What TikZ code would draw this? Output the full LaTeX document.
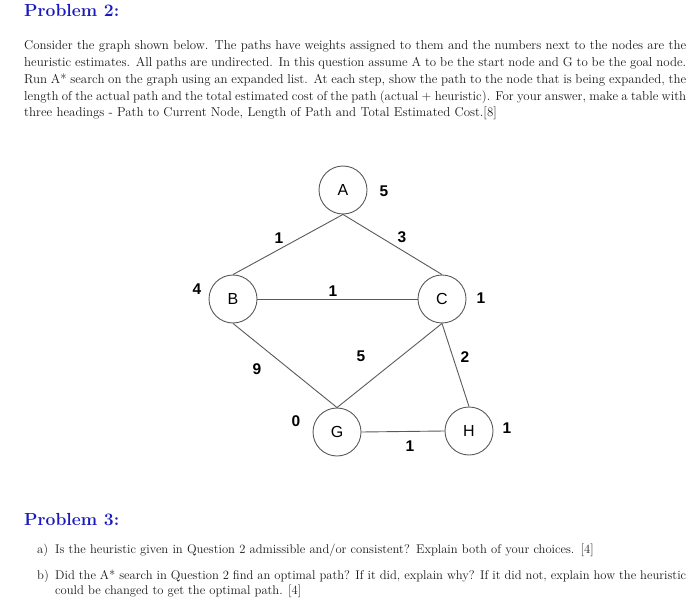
\documentclass[tikz,border=0pt]{standalone}
\usepackage{fontspec}
\newfontfamily\arialf{Liberation Sans}
\definecolor{headblue}{RGB}{25,25,190}
\definecolor{txt}{RGB}{25,25,25}
\definecolor{edgec}{RGB}{90,90,90}
\newcommand{\jline}[1]{\hbox to 662pt{\spaceskip=0.25em plus 0.4em minus 0.1em\xspaceskip=0.4em plus 0.4em minus 0.15em #1}}
\begin{document}
\begin{tikzpicture}[x=1pt,y=-1pt,
  vert/.style={circle,draw=edgec,line width=0.9pt,minimum size=48pt,inner sep=0pt,font=\arialf\fontsize{16}{16}\selectfont,text=black},
  wlab/.style={font=\arialf\bfseries\fontsize{15.5}{15.5}\selectfont,inner sep=0pt,text=black},
  link/.style={draw=edgec,line width=0.9pt},
  heading/.style={anchor=base west,inner sep=0pt,text=headblue,font=\bfseries\fontsize{17.5}{20}\selectfont},
  body/.style={anchor=base west,inner sep=0pt,text=txt,align=left,font=\fontsize{12.9}{16.7}\selectfont},
  itembody/.style={anchor=base west,inner sep=0pt,text=txt,align=justify,font=\fontsize{12.6}{15.5}\selectfont}
]
\useasboundingbox (0,0) rectangle (700,609);
\fill[white] (0,0) rectangle (700,609);

% headings and text
\node[heading] (p2) at (24,17) {Problem 2:};
\node[body,text width=662pt] (para) at (24,50) {\jline{Consider the graph shown below. The paths have weights assigned to them and the numbers next to the nodes are the}
\jline{heuristic estimates. All paths are undirected. In this question assume A to be the start node and G to be the goal node.}
\jline{Run A* search on the graph using an expanded list. At each step, show the path to the node that is being expanded, the}
\jline{length of the actual path and the total estimated cost of the path (actual + heuristic). For your answer, make a table with}
\hbox{three headings - Path to Current Node, Length of Path and Total Estimated Cost.[8]}};

\node[heading] (p3) at (24,525) {Problem 3:};
\node[itembody] (la) at (37,553) {a)};
\node[itembody,text width=631pt,align=left] (ta) at (55,553) {Is the heuristic given in Question 2 admissible and/or consistent? Explain both of your choices. [4]};
\node[itembody] (lb) at (37,579) {b)};
\node[itembody,text width=631pt] (tb) at (55,579) {Did the A* search in Question 2 find an optimal path? If it did, explain why? If it did not, explain how the heuristic\linebreak
could be changed to get the optimal path. [4]};

% graph nodes
\node[vert] (A) at (343,190) {A};
\node[vert] (B) at (233,299) {B};
\node[vert] (C) at (442,299) {C};
\node[vert] (G) at (337,432) {G};
\node[vert] (H) at (469,431) {H};

% edges
\draw[link] (A.south) -- (B.north);
\draw[link] (A.south) -- (C.north);
\draw[link] (B.east) -- (C.west);
\draw[link] (B.south) -- (G.north);
\draw[link] (C.south) -- (G.north);
\draw[link] (C.south) -- (H.north);
\draw[link] (G.east) -- (H.west);

% heuristics
\node[wlab] (hA) at (384,191) {5};
\node[wlab] (hB) at (197,289) {4};
\node[wlab] (hC) at (481,298) {1};
\node[wlab] (hG) at (296,421) {0};
\node[wlab] (hH) at (507,428) {1};

% edge weights
\node[wlab] (wAB) at (279,238) {1};
\node[wlab] (wAC) at (402,237) {3};
\node[wlab] (wBC) at (333,291) {1};
\node[wlab] (wBG) at (257,369) {9};
\node[wlab] (wCG) at (361,356) {5};
\node[wlab] (wCH) at (465,357) {2};
\node[wlab] (wGH) at (410,446) {1};
\end{tikzpicture}
\end{document}
